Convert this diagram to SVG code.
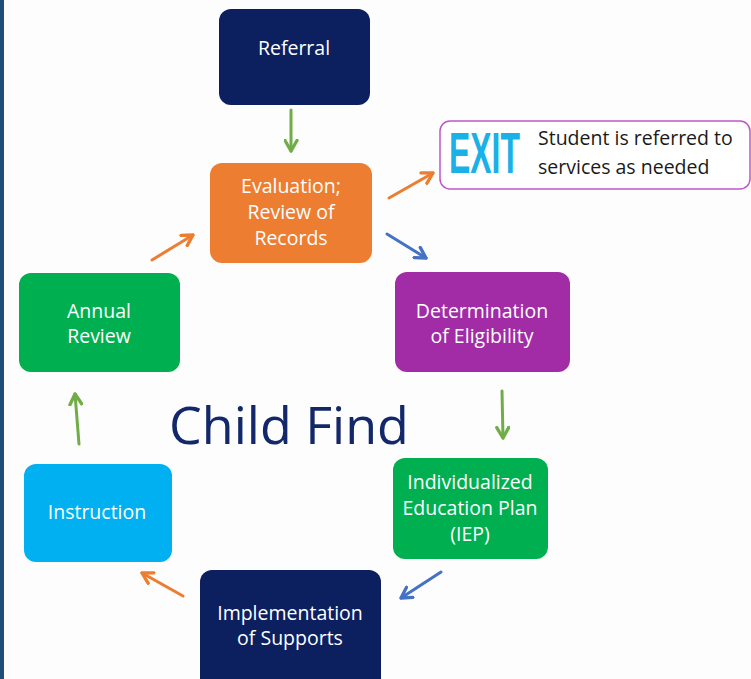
<svg xmlns="http://www.w3.org/2000/svg" width="751" height="679" viewBox="0 0 751 679">
<style>
.t{font-family:"Open Sans","Liberation Sans",sans-serif;font-size:19.5px;font-weight:500;fill:#fff;text-anchor:middle;dominant-baseline:central}
.s{font-family:"Open Sans","Liberation Sans",sans-serif;font-size:19.5px;fill:#1a1a1a}
.c{fill:none;stroke-width:3;stroke-linecap:round}
.g{stroke:#70ad47}.o{stroke:#ed7d31}.b{stroke:#4472c4}
</style>
<defs>
<marker id="mg" viewBox="0 0 10 10" refX="8" refY="5" markerWidth="5" markerHeight="5" orient="auto" markerUnits="strokeWidth"><polyline points="1,1 8,5 1,9" fill="none" stroke="#70ad47" stroke-width="2.2" stroke-linecap="round" stroke-linejoin="round"/></marker>
<marker id="mo" viewBox="0 0 10 10" refX="8" refY="5" markerWidth="5" markerHeight="5" orient="auto" markerUnits="strokeWidth"><polyline points="1,1 8,5 1,9" fill="none" stroke="#ed7d31" stroke-width="2.2" stroke-linecap="round" stroke-linejoin="round"/></marker>
<marker id="mb" viewBox="0 0 10 10" refX="8" refY="5" markerWidth="5" markerHeight="5" orient="auto" markerUnits="strokeWidth"><polyline points="1,1 8,5 1,9" fill="none" stroke="#4472c4" stroke-width="2.2" stroke-linecap="round" stroke-linejoin="round"/></marker>
</defs>
<rect width="751" height="679" fill="#fdfdfd"/>
<rect x="0" y="0" width="4" height="679" fill="#1f4e79"/>
<g id="title"><text x="289" y="423" font-family="'Open Sans','Liberation Sans',sans-serif" font-size="52" font-weight="500" fill="#13286a" text-anchor="middle" dominant-baseline="central">Child Find</text></g>
<g id="referral"><rect x="219" y="9" width="151" height="96" rx="12" fill="#0c1f5e"/><text class="t" x="294" y="47">Referral</text></g>
<g id="evaluation"><rect x="210" y="163" width="162" height="100" rx="12" fill="#ed7d31"/><text class="t" x="291" y="185">Evaluation;</text><text class="t" x="291" y="211">Review of</text><text class="t" x="291" y="237">Records</text></g>
<g id="exit"><rect x="440" y="121" width="310" height="68" rx="10" fill="#fff" stroke="#c055c8" stroke-width="1.5"/><text transform="translate(449,173) scale(0.55,1)" x="0" y="0" font-family="'Liberation Sans',sans-serif" font-size="58" font-weight="bold" fill="#1ab0e8">EXIT</text><text class="s" x="538" y="145">Student is referred to</text><text class="s" x="538" y="174">services as needed</text></g>
<g id="determination"><rect x="395" y="272" width="175" height="100" rx="12" fill="#a22ba6"/><text class="t" x="482" y="310">Determination</text><text class="t" x="482" y="335">of Eligibility</text></g>
<g id="annual"><rect x="19" y="273" width="161" height="99" rx="12" fill="#00b050"/><text class="t" x="99" y="310">Annual</text><text class="t" x="99" y="335">Review</text></g>
<g id="iep"><rect x="393" y="458" width="155" height="101" rx="12" fill="#00b050"/><text class="t" x="470" y="481">Individualized</text><text class="t" x="470" y="507">Education Plan</text><text class="t" x="470" y="533">(IEP)</text></g>
<g id="instruction"><rect x="24" y="464" width="148" height="98" rx="12" fill="#00b0f0"/><text class="t" x="97" y="511">Instruction</text></g>
<g id="implementation"><rect x="200" y="570" width="181" height="120" rx="12" fill="#0c1f5e"/><text class="t" x="290" y="612">Implementation</text><text class="t" x="290" y="637">of Supports</text></g>
<g id="connectors">
<line class="c g" x1="291" y1="110" x2="291" y2="151" marker-end="url(#mg)"/>
<line class="c o" x1="389" y1="198" x2="433" y2="173" marker-end="url(#mo)"/>
<line class="c b" x1="387" y1="234" x2="426" y2="258" marker-end="url(#mb)"/>
<line class="c g" x1="502" y1="391" x2="503" y2="438" marker-end="url(#mg)"/>
<line class="c b" x1="441" y1="572" x2="401" y2="598" marker-end="url(#mb)"/>
<line class="c o" x1="183" y1="596" x2="142" y2="573" marker-end="url(#mo)"/>
<line class="c g" x1="79" y1="444" x2="75" y2="394" marker-end="url(#mg)"/>
<line class="c o" x1="152" y1="260" x2="193" y2="235" marker-end="url(#mo)"/>
</g>
</svg>
